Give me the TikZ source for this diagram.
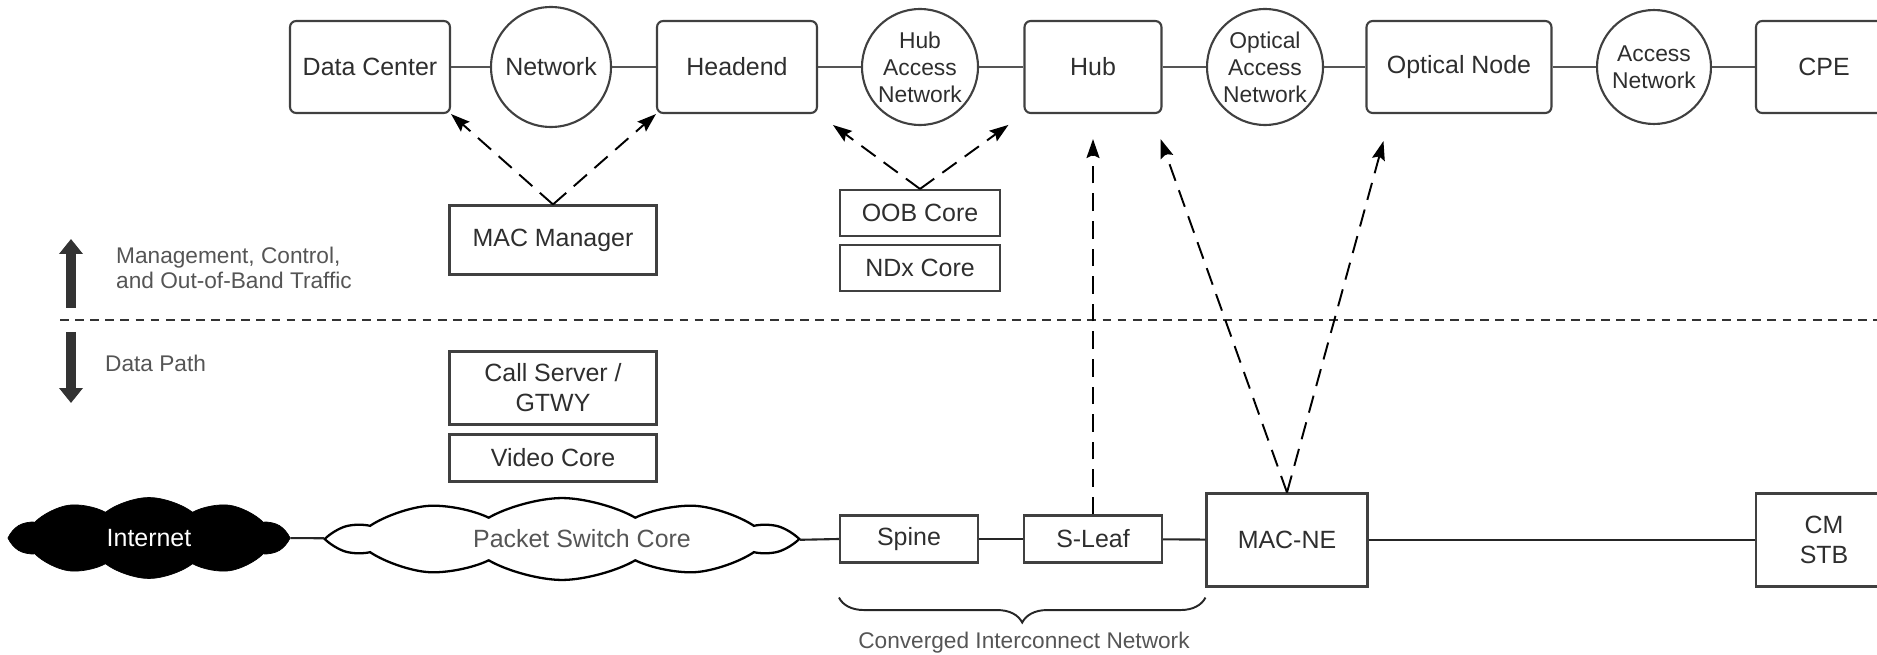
\documentclass[tikz,border=0pt]{standalone}
\usepackage{fontspec}
\setmainfont{Liberation Sans}
\usetikzlibrary{arrows.meta,calc,decorations.pathreplacing,positioning,shapes.symbols}
\definecolor{boxgray}{HTML}{404040}
\definecolor{textgray}{HTML}{2E2E2E}
\definecolor{notegray}{HTML}{555555}
\definecolor{fatgray}{HTML}{333333}

\begin{document}
\begin{tikzpicture}[x=0.02cm,y=-0.02cm,
  font=\fontsize{14.2}{17}\selectfont, text=textgray,
  site/.style={draw=boxgray,line width=1.2pt,rounded corners=3.5pt,minimum height=1.84cm,inner sep=0pt},
  netw/.style={draw=boxgray,line width=1.2pt,circle,minimum size=2.32cm,inner sep=0pt,align=center,
    font=\fontsize{13}{15.4}\selectfont},
  unit/.style={draw=boxgray,line width=1.2pt,inner sep=0pt,align=center},
  link/.style={draw=notegray,line width=1.6pt},
  wire/.style={draw=black!85,line width=1.2pt},
  ctrl/.style={draw=black,line width=1.1pt,dash pattern=on 10pt off 5.7pt,
    -{Stealth[length=0.38cm,width=0.26cm,inset=0.06cm]}},
  note/.style={text=notegray,font=\fontsize{12.9}{14.2}\selectfont},
  fatarrow/.style={draw=fatgray,line width=5.7pt,-{Triangle[length=0.3cm,width=0.46cm]}},
  netcloud/.style={cloud,inner sep=0pt}
]
  \useasboundingbox (0,0) rectangle (1877,655);
  \clip (0,0) rectangle (1877,655);

  % Top row
  \node[site,minimum width=3.2cm] (dc) at (370,67) {Data Center};
  \node[netw,minimum size=2.4cm,font=\fontsize{14.2}{17}\selectfont] (net) at (551,67) {Network};
  \node[site,minimum width=3.2cm] (he) at (737,67) {Headend};
  \node[netw] (han) at (920,67) {Hub\\Access\\Network};
  \node[site,minimum width=2.74cm] (hub) at (1093,67) {Hub};
  \node[netw] (oan) at (1265,67) {Optical\\Access\\Network};
  \node[site,minimum width=3.7cm] (on) at (1459,67) {Optical Node};
  \node[netw,minimum size=2.28cm] (an) at (1654,67) {Access\\Network};
  \node[site,minimum width=2.72cm] (cpe) at (1824,67) {CPE};
  \draw[link] (dc) -- (net) -- (he) -- (han) -- (hub) -- (oan) -- (on) -- (an) -- (cpe);

  % Management side
  \node[unit,minimum width=4.14cm,minimum height=1.38cm] (mm) at (553,240) {MAC Manager};
  \node[unit,minimum width=3.2cm,minimum height=0.92cm] (oob) at (920,213) {OOB Core};
  \node[unit,minimum width=3.2cm,minimum height=0.92cm] (ndx) at (920,268) {NDx Core};
  \draw[ctrl] (mm.north) -- (dc.south east);
  \draw[ctrl] (mm.north) -- (he.south west);
  \draw[ctrl,shorten >=0.37cm] (oob.north) -- (he.south east);
  \draw[ctrl,shorten >=0.37cm] (oob.north) -- (hub.south west);

  % Legend and split
  \draw[fatarrow] (71,308) -- (71,239);
  \node[note,anchor=west,align=left] (mct) at (110,268) {Management, Control,\\and Out-of-Band Traffic};
  \draw[fatarrow] (71,332) -- (71,403);
  \node[note,anchor=west] (dp) at (99,363) {Data Path};
  \draw[draw=fatgray,line width=1.1pt,dash pattern=on 5pt off 3.6pt] (60,320) -- (1877,320);

  % Data path
  \node[unit,minimum width=4.14cm,minimum height=1.46cm] (cs) at (553,388) {Call Server /\\GTWY};
  \node[unit,minimum width=4.14cm,minimum height=0.94cm] (vc) at (553,458) {Video Core};
  \node[netcloud,fill=black,draw=black,cloud puffs=10,cloud puff arc=75,aspect=3.6,
    minimum width=5.48cm,minimum height=1.62cm,text=white] (inet) at (149,538) {Internet};
  \node[netcloud,draw=black,line width=1.3pt,fill=white,cloud puffs=10,cloud puff arc=60,aspect=6.7,
    minimum width=9.1cm,minimum height=1.3cm,text=notegray] (psc) at (562,539) {\hspace*{0.8cm}Packet Switch Core};
  \node[unit,minimum width=2.76cm,minimum height=0.94cm] (spine) at (909,539) {Spine};
  \node[unit,minimum width=2.76cm,minimum height=0.94cm] (sleaf) at (1093,539) {S-Leaf};
  \node[unit,minimum width=3.22cm,minimum height=1.86cm] (macne) at (1287,540) {MAC-NE};
  \node[unit,minimum width=2.72cm,minimum height=1.86cm] (cmstb) at (1824,540) {CM\\STB};
  \draw[wire] (inet) -- (psc);
  \draw[wire] (psc) -- (spine);
  \draw[wire] (spine) -- (sleaf);
  \draw[wire] (sleaf) -- (macne);
  \draw[wire] (macne) -- (cmstb);

  % Control links up from the data path
  \coordinate (hubtip) at ($(hub.south)+(0,25)$);
  \coordinate (hubedge) at ($(hub.south east)+(-2,25)$);
  \coordinate (ontip) at ($(on.south west)+(18,27)$);
  \draw[ctrl] (sleaf.north) -- (hubtip);
  \draw[ctrl] (macne.north) -- (hubedge);
  \draw[ctrl] (macne.north) -- (ontip);

  % Interconnect brace
  \coordinate (bl) at ($(spine.south west)+(0,34)$);
  \coordinate (br) at ($(macne.west |- spine.south)+(0,34)$);
  \draw[black!85,line width=1.1pt,decorate,decoration={brace,mirror,amplitude=0.5cm}] (bl) -- (br);
  \node[note] (cin) at (1024,643) {Converged Interconnect Network};
\end{tikzpicture}
\end{document}
